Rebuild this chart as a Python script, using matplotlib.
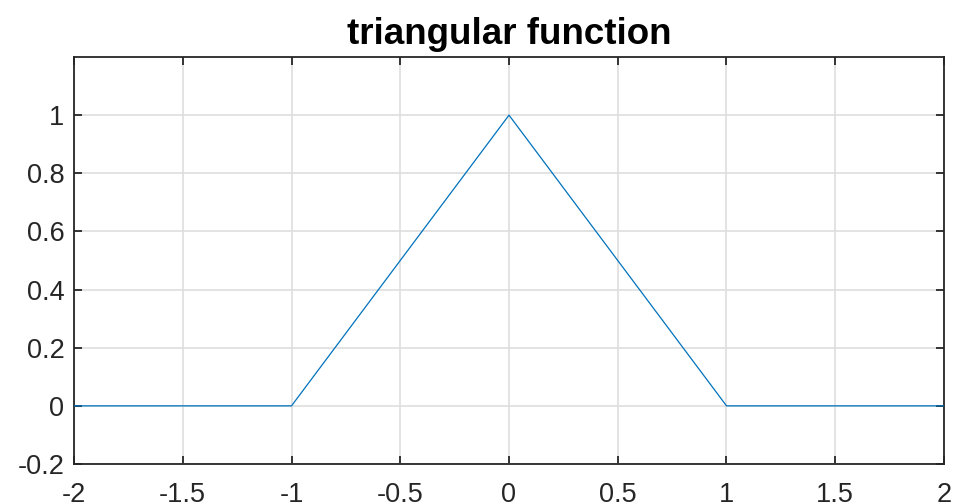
import matplotlib
matplotlib.use("Agg")
import matplotlib.pyplot as plt

x = [-2, -1, 0, 1, 2]
y = [0, 0, 1, 0, 0]
xticks = [-2, -1.5, -1, -0.5, 0, 0.5, 1, 1.5, 2]
yticks = [-0.2, 0, 0.2, 0.4, 0.6, 0.8, 1]

plt.rcParams['font.family'] = ['Liberation Sans', 'DejaVu Sans']

fig = plt.figure(figsize=(9.54, 5.04), dpi=100)
ax = fig.add_axes([74/954, 40/504, 870/954, 407/504])

ax.plot(x, y, color=(0, 0.447, 0.741), lw=0.9, zorder=3)

ax.set_xlim(-2, 2)
ax.set_ylim(-0.2, 1.2)
ax.set_xticks(xticks)
ax.set_xticklabels(['-2', '-1.5', '-1', '-0.5', '0', '0.5', '1', '1.5', '2'])
ax.set_yticks(yticks)
ax.set_yticklabels(['-0.2', '0', '0.2', '0.4', '0.6', '0.8', '1'])

ax.grid(True, color='#dedede', lw=1.2)
ax.set_axisbelow(True)
ax.tick_params(direction='in', top=True, right=True, length=6, width=1.3,
               labelsize=19.5, colors='#262626', pad=13)
ax.tick_params(axis='y', pad=7)
for s in ax.spines.values():
    s.set_linewidth(1.3)
    s.set_color('#262626')

ax.set_title('triangular function', fontsize=26.5, fontweight='bold', pad=9)

fig.savefig('out.png', dpi=100)
